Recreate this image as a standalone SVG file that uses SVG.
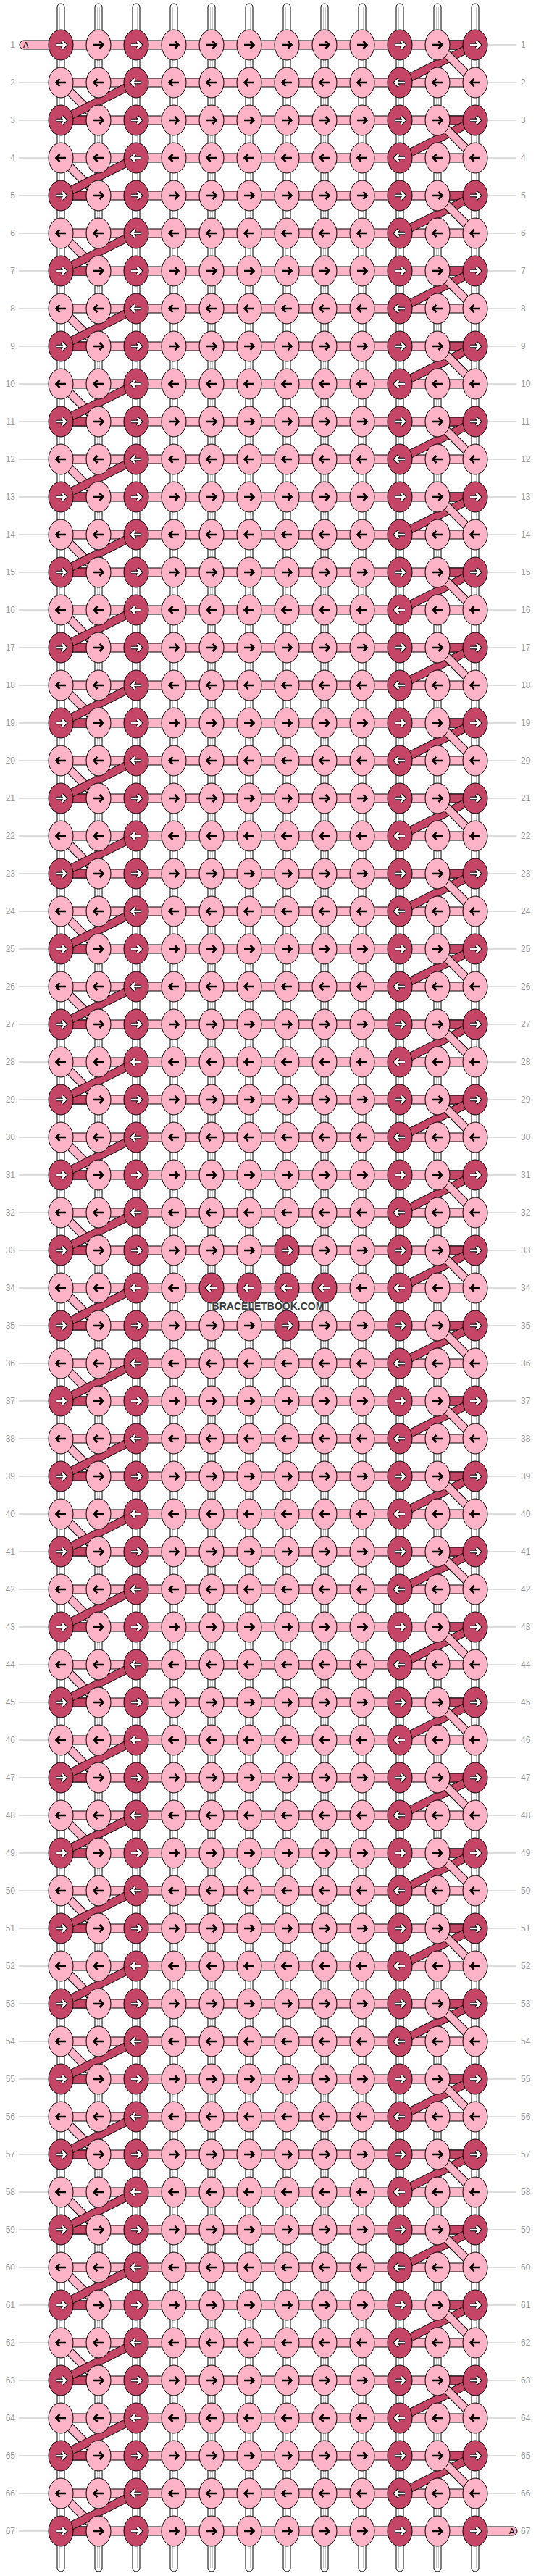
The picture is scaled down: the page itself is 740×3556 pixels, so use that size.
<svg xmlns="http://www.w3.org/2000/svg" xmlns:xlink="http://www.w3.org/1999/xlink" width="740" height="3556" viewBox="0 0 740 3556">
<style>
.lt{fill:#FFB3C6;stroke:#000;stroke-width:1}
.dk{fill:#C44566;stroke:#000;stroke-width:1}
.ob{fill:none;stroke:#000;stroke-width:12}
.lbd{fill:none;stroke:#FFB3C6;stroke-width:10}
.dbd{fill:none;stroke:#C44566;stroke-width:10}
.ab{fill:none;stroke:#000;stroke-width:2.6}
.ao{fill:none;stroke:#000;stroke-width:4.6}
.aw{fill:none;stroke:#fff;stroke-width:2.6}
.lb{font-family:"Liberation Sans",Arial,sans-serif;font-size:12px;fill:#999}
.ll{fill:none;stroke:#bbb;stroke-width:1}
.ta{font-family:"Liberation Sans",Arial,sans-serif;font-size:11px;fill:#000}
</style>
<defs>
<g id="LR"><ellipse rx="17" ry="21" class="lt"/><path d="M-7 0H6M1.5-5 6.5 0 1.5 5" class="ab"/></g>
<g id="LL"><ellipse rx="17" ry="21" class="lt"/><path d="M7 0H-6M-1.5-5-6.5 0-1.5 5" class="ab"/></g>
<g id="DR"><ellipse rx="17" ry="21" class="dk"/><path d="M-7 0H6M1.5-5 6.5 0 1.5 5" class="ao"/><path d="M-7 0H6M1.5-5 6.5 0 1.5 5" class="aw"/></g>
<g id="DL"><ellipse rx="17" ry="21" class="dk"/><path d="M7 0H-6M-1.5-5-6.5 0-1.5 5" class="ao"/><path d="M7 0H-6M-1.5-5-6.5 0-1.5 5" class="aw"/></g>
<g id="vt"><rect x="-5" y="5" width="10" height="3545" rx="5" fill="#fff" stroke="#000"/><path d="M-1.5 10V3545M1.5 10V3545" stroke="#c8c8c8" fill="none"/></g>
<rect id="hb" x="84" y="-6" width="572" height="12" class="lt"/>
<g id="evL"><rect x="84" y="46" width="52" height="12" class="dk"/><path d="M84 0 136 52" class="ob"/><path d="M84 0 136 52" class="lbd"/><path d="M188 0 84 52" class="ob"/><path d="M188 0 84 52" class="dbd"/></g>
<g id="odR"><rect x="604" y="-6" width="52" height="12" class="dk"/><path d="M656 0 552 52" class="ob"/><path d="M656 0 552 52" class="dbd"/><path d="M604 0 656 52" class="ob"/><path d="M604 0 656 52" class="lbd"/></g>
</defs>
<rect width="740" height="3556" fill="#fff"/>
<g id="labels">
<path class="ll" d="M26 114H67M26 166H67M26 218H67M26 270H67M26 322H67M26 374H67M26 426H67M26 478H67M26 530H67M26 582H67M26 634H67M26 686H67M26 738H67M26 790H67M26 842H67M26 894H67M26 946H67M26 998H67M26 1050H67M26 1102H67M26 1154H67M26 1206H67M26 1258H67M26 1310H67M26 1362H67M26 1414H67M26 1466H67M26 1518H67M26 1570H67M26 1622H67M26 1674H67M26 1726H67M26 1778H67M26 1830H67M26 1882H67M26 1934H67M26 1986H67M26 2038H67M26 2090H67M26 2142H67M26 2194H67M26 2246H67M26 2298H67M26 2350H67M26 2402H67M26 2454H67M26 2506H67M26 2558H67M26 2610H67M26 2662H67M26 2714H67M26 2766H67M26 2818H67M26 2870H67M26 2922H67M26 2974H67M26 3026H67M26 3078H67M26 3130H67M26 3182H67M26 3234H67M26 3286H67M26 3338H67M26 3390H67M26 3442H67M26 3494H67"/>
<path class="ll" d="M673 62H713M673 114H713M673 166H713M673 218H713M673 270H713M673 322H713M673 374H713M673 426H713M673 478H713M673 530H713M673 582H713M673 634H713M673 686H713M673 738H713M673 790H713M673 842H713M673 894H713M673 946H713M673 998H713M673 1050H713M673 1102H713M673 1154H713M673 1206H713M673 1258H713M673 1310H713M673 1362H713M673 1414H713M673 1466H713M673 1518H713M673 1570H713M673 1622H713M673 1674H713M673 1726H713M673 1778H713M673 1830H713M673 1882H713M673 1934H713M673 1986H713M673 2038H713M673 2090H713M673 2142H713M673 2194H713M673 2246H713M673 2298H713M673 2350H713M673 2402H713M673 2454H713M673 2506H713M673 2558H713M673 2610H713M673 2662H713M673 2714H713M673 2766H713M673 2818H713M673 2870H713M673 2922H713M673 2974H713M673 3026H713M673 3078H713M673 3130H713M673 3182H713M673 3234H713M673 3286H713M673 3338H713M673 3390H713M673 3442H713"/>
<g class="lb" text-anchor="end">
<text x="21" y="66">1</text><text x="21" y="118">2</text><text x="21" y="170">3</text><text x="21" y="222">4</text><text x="21" y="274">5</text><text x="21" y="326">6</text><text x="21" y="378">7</text><text x="21" y="430">8</text><text x="21" y="482">9</text><text x="21" y="534">10</text><text x="21" y="586">11</text><text x="21" y="638">12</text><text x="21" y="690">13</text><text x="21" y="742">14</text><text x="21" y="794">15</text><text x="21" y="846">16</text><text x="21" y="898">17</text><text x="21" y="950">18</text><text x="21" y="1002">19</text><text x="21" y="1054">20</text><text x="21" y="1106">21</text><text x="21" y="1158">22</text><text x="21" y="1210">23</text><text x="21" y="1262">24</text><text x="21" y="1314">25</text><text x="21" y="1366">26</text><text x="21" y="1418">27</text><text x="21" y="1470">28</text><text x="21" y="1522">29</text><text x="21" y="1574">30</text><text x="21" y="1626">31</text><text x="21" y="1678">32</text><text x="21" y="1730">33</text><text x="21" y="1782">34</text><text x="21" y="1834">35</text><text x="21" y="1886">36</text><text x="21" y="1938">37</text><text x="21" y="1990">38</text><text x="21" y="2042">39</text><text x="21" y="2094">40</text><text x="21" y="2146">41</text><text x="21" y="2198">42</text><text x="21" y="2250">43</text><text x="21" y="2302">44</text><text x="21" y="2354">45</text><text x="21" y="2406">46</text><text x="21" y="2458">47</text><text x="21" y="2510">48</text><text x="21" y="2562">49</text><text x="21" y="2614">50</text><text x="21" y="2666">51</text><text x="21" y="2718">52</text><text x="21" y="2770">53</text><text x="21" y="2822">54</text><text x="21" y="2874">55</text><text x="21" y="2926">56</text><text x="21" y="2978">57</text><text x="21" y="3030">58</text><text x="21" y="3082">59</text><text x="21" y="3134">60</text><text x="21" y="3186">61</text><text x="21" y="3238">62</text><text x="21" y="3290">63</text><text x="21" y="3342">64</text><text x="21" y="3394">65</text><text x="21" y="3446">66</text><text x="21" y="3498">67</text>
</g>
<g class="lb">
<text x="719" y="66">1</text><text x="719" y="118">2</text><text x="719" y="170">3</text><text x="719" y="222">4</text><text x="719" y="274">5</text><text x="719" y="326">6</text><text x="719" y="378">7</text><text x="719" y="430">8</text><text x="719" y="482">9</text><text x="719" y="534">10</text><text x="719" y="586">11</text><text x="719" y="638">12</text><text x="719" y="690">13</text><text x="719" y="742">14</text><text x="719" y="794">15</text><text x="719" y="846">16</text><text x="719" y="898">17</text><text x="719" y="950">18</text><text x="719" y="1002">19</text><text x="719" y="1054">20</text><text x="719" y="1106">21</text><text x="719" y="1158">22</text><text x="719" y="1210">23</text><text x="719" y="1262">24</text><text x="719" y="1314">25</text><text x="719" y="1366">26</text><text x="719" y="1418">27</text><text x="719" y="1470">28</text><text x="719" y="1522">29</text><text x="719" y="1574">30</text><text x="719" y="1626">31</text><text x="719" y="1678">32</text><text x="719" y="1730">33</text><text x="719" y="1782">34</text><text x="719" y="1834">35</text><text x="719" y="1886">36</text><text x="719" y="1938">37</text><text x="719" y="1990">38</text><text x="719" y="2042">39</text><text x="719" y="2094">40</text><text x="719" y="2146">41</text><text x="719" y="2198">42</text><text x="719" y="2250">43</text><text x="719" y="2302">44</text><text x="719" y="2354">45</text><text x="719" y="2406">46</text><text x="719" y="2458">47</text><text x="719" y="2510">48</text><text x="719" y="2562">49</text><text x="719" y="2614">50</text><text x="719" y="2666">51</text><text x="719" y="2718">52</text><text x="719" y="2770">53</text><text x="719" y="2822">54</text><text x="719" y="2874">55</text><text x="719" y="2926">56</text><text x="719" y="2978">57</text><text x="719" y="3030">58</text><text x="719" y="3082">59</text><text x="719" y="3134">60</text><text x="719" y="3186">61</text><text x="719" y="3238">62</text><text x="719" y="3290">63</text><text x="719" y="3342">64</text><text x="719" y="3394">65</text><text x="719" y="3446">66</text><text x="719" y="3498">67</text>
</g>
</g>
<g id="connectors">
<use href="#vt" x="84"/><use href="#vt" x="136"/><use href="#vt" x="188"/><use href="#vt" x="240"/><use href="#vt" x="292"/><use href="#vt" x="344"/><use href="#vt" x="396"/><use href="#vt" x="448"/><use href="#vt" x="500"/><use href="#vt" x="552"/><use href="#vt" x="604"/><use href="#vt" x="656"/>
<use href="#hb" y="62"/><use href="#hb" y="114"/><use href="#hb" y="166"/><use href="#hb" y="218"/><use href="#hb" y="270"/><use href="#hb" y="322"/><use href="#hb" y="374"/><use href="#hb" y="426"/><use href="#hb" y="478"/><use href="#hb" y="530"/><use href="#hb" y="582"/><use href="#hb" y="634"/><use href="#hb" y="686"/><use href="#hb" y="738"/><use href="#hb" y="790"/><use href="#hb" y="842"/><use href="#hb" y="894"/><use href="#hb" y="946"/><use href="#hb" y="998"/><use href="#hb" y="1050"/><use href="#hb" y="1102"/><use href="#hb" y="1154"/><use href="#hb" y="1206"/><use href="#hb" y="1258"/><use href="#hb" y="1310"/><use href="#hb" y="1362"/><use href="#hb" y="1414"/><use href="#hb" y="1466"/><use href="#hb" y="1518"/><use href="#hb" y="1570"/><use href="#hb" y="1622"/><use href="#hb" y="1674"/><use href="#hb" y="1726"/><use href="#hb" y="1778"/><use href="#hb" y="1830"/><use href="#hb" y="1882"/><use href="#hb" y="1934"/><use href="#hb" y="1986"/><use href="#hb" y="2038"/><use href="#hb" y="2090"/><use href="#hb" y="2142"/><use href="#hb" y="2194"/><use href="#hb" y="2246"/><use href="#hb" y="2298"/><use href="#hb" y="2350"/><use href="#hb" y="2402"/><use href="#hb" y="2454"/><use href="#hb" y="2506"/><use href="#hb" y="2558"/><use href="#hb" y="2610"/><use href="#hb" y="2662"/><use href="#hb" y="2714"/><use href="#hb" y="2766"/><use href="#hb" y="2818"/><use href="#hb" y="2870"/><use href="#hb" y="2922"/><use href="#hb" y="2974"/><use href="#hb" y="3026"/><use href="#hb" y="3078"/><use href="#hb" y="3130"/><use href="#hb" y="3182"/><use href="#hb" y="3234"/><use href="#hb" y="3286"/><use href="#hb" y="3338"/><use href="#hb" y="3390"/><use href="#hb" y="3442"/><use href="#hb" y="3494"/>
<rect x="27" y="56" width="70" height="12" rx="6" class="lt"/><text x="32" y="66" class="ta">A</text>
<rect x="643" y="3488" width="71" height="12" rx="6" class="lt"/><text x="703" y="3498" class="ta">A</text>
<use href="#evL" y="114"/><use href="#evL" y="218"/><use href="#evL" y="322"/><use href="#evL" y="426"/><use href="#evL" y="530"/><use href="#evL" y="634"/><use href="#evL" y="738"/><use href="#evL" y="842"/><use href="#evL" y="946"/><use href="#evL" y="1050"/><use href="#evL" y="1154"/><use href="#evL" y="1258"/><use href="#evL" y="1362"/><use href="#evL" y="1466"/><use href="#evL" y="1570"/><use href="#evL" y="1674"/><use href="#evL" y="1778"/><use href="#evL" y="1882"/><use href="#evL" y="1986"/><use href="#evL" y="2090"/><use href="#evL" y="2194"/><use href="#evL" y="2298"/><use href="#evL" y="2402"/><use href="#evL" y="2506"/><use href="#evL" y="2610"/><use href="#evL" y="2714"/><use href="#evL" y="2818"/><use href="#evL" y="2922"/><use href="#evL" y="3026"/><use href="#evL" y="3130"/><use href="#evL" y="3234"/><use href="#evL" y="3338"/><use href="#evL" y="3442"/>
<use href="#odR" y="62"/><use href="#odR" y="166"/><use href="#odR" y="270"/><use href="#odR" y="374"/><use href="#odR" y="478"/><use href="#odR" y="582"/><use href="#odR" y="686"/><use href="#odR" y="790"/><use href="#odR" y="894"/><use href="#odR" y="998"/><use href="#odR" y="1102"/><use href="#odR" y="1206"/><use href="#odR" y="1310"/><use href="#odR" y="1414"/><use href="#odR" y="1518"/><use href="#odR" y="1622"/><use href="#odR" y="1726"/><use href="#odR" y="1830"/><use href="#odR" y="1934"/><use href="#odR" y="2038"/><use href="#odR" y="2142"/><use href="#odR" y="2246"/><use href="#odR" y="2350"/><use href="#odR" y="2454"/><use href="#odR" y="2558"/><use href="#odR" y="2662"/><use href="#odR" y="2766"/><use href="#odR" y="2870"/><use href="#odR" y="2974"/><use href="#odR" y="3078"/><use href="#odR" y="3182"/><use href="#odR" y="3286"/><use href="#odR" y="3390"/>
</g>
<g id="knots">
<g transform="translate(0 62)"><g id="k1-1"><use href="#DR" x="84"/></g><g id="k1-2"><use href="#LR" x="136"/></g><g id="k1-3"><use href="#DR" x="188"/></g><g id="k1-4"><use href="#LR" x="240"/></g><g id="k1-5"><use href="#LR" x="292"/></g><g id="k1-6"><use href="#LR" x="344"/></g><g id="k1-7"><use href="#LR" x="396"/></g><g id="k1-8"><use href="#LR" x="448"/></g><g id="k1-9"><use href="#LR" x="500"/></g><g id="k1-10"><use href="#DR" x="552"/></g><g id="k1-11"><use href="#LR" x="604"/></g><g id="k1-12"><use href="#DR" x="656"/></g></g>
<g transform="translate(0 114)"><g id="k2-1"><use href="#LL" x="84"/></g><g id="k2-2"><use href="#LL" x="136"/></g><g id="k2-3"><use href="#DL" x="188"/></g><g id="k2-4"><use href="#LL" x="240"/></g><g id="k2-5"><use href="#LL" x="292"/></g><g id="k2-6"><use href="#LL" x="344"/></g><g id="k2-7"><use href="#LL" x="396"/></g><g id="k2-8"><use href="#LL" x="448"/></g><g id="k2-9"><use href="#LL" x="500"/></g><g id="k2-10"><use href="#DL" x="552"/></g><g id="k2-11"><use href="#LL" x="604"/></g><g id="k2-12"><use href="#LL" x="656"/></g></g>
<g transform="translate(0 166)"><g id="k3-1"><use href="#DR" x="84"/></g><g id="k3-2"><use href="#LR" x="136"/></g><g id="k3-3"><use href="#DR" x="188"/></g><g id="k3-4"><use href="#LR" x="240"/></g><g id="k3-5"><use href="#LR" x="292"/></g><g id="k3-6"><use href="#LR" x="344"/></g><g id="k3-7"><use href="#LR" x="396"/></g><g id="k3-8"><use href="#LR" x="448"/></g><g id="k3-9"><use href="#LR" x="500"/></g><g id="k3-10"><use href="#DR" x="552"/></g><g id="k3-11"><use href="#LR" x="604"/></g><g id="k3-12"><use href="#DR" x="656"/></g></g>
<g transform="translate(0 218)"><g id="k4-1"><use href="#LL" x="84"/></g><g id="k4-2"><use href="#LL" x="136"/></g><g id="k4-3"><use href="#DL" x="188"/></g><g id="k4-4"><use href="#LL" x="240"/></g><g id="k4-5"><use href="#LL" x="292"/></g><g id="k4-6"><use href="#LL" x="344"/></g><g id="k4-7"><use href="#LL" x="396"/></g><g id="k4-8"><use href="#LL" x="448"/></g><g id="k4-9"><use href="#LL" x="500"/></g><g id="k4-10"><use href="#DL" x="552"/></g><g id="k4-11"><use href="#LL" x="604"/></g><g id="k4-12"><use href="#LL" x="656"/></g></g>
<g transform="translate(0 270)"><g id="k5-1"><use href="#DR" x="84"/></g><g id="k5-2"><use href="#LR" x="136"/></g><g id="k5-3"><use href="#DR" x="188"/></g><g id="k5-4"><use href="#LR" x="240"/></g><g id="k5-5"><use href="#LR" x="292"/></g><g id="k5-6"><use href="#LR" x="344"/></g><g id="k5-7"><use href="#LR" x="396"/></g><g id="k5-8"><use href="#LR" x="448"/></g><g id="k5-9"><use href="#LR" x="500"/></g><g id="k5-10"><use href="#DR" x="552"/></g><g id="k5-11"><use href="#LR" x="604"/></g><g id="k5-12"><use href="#DR" x="656"/></g></g>
<g transform="translate(0 322)"><g id="k6-1"><use href="#LL" x="84"/></g><g id="k6-2"><use href="#LL" x="136"/></g><g id="k6-3"><use href="#DL" x="188"/></g><g id="k6-4"><use href="#LL" x="240"/></g><g id="k6-5"><use href="#LL" x="292"/></g><g id="k6-6"><use href="#LL" x="344"/></g><g id="k6-7"><use href="#LL" x="396"/></g><g id="k6-8"><use href="#LL" x="448"/></g><g id="k6-9"><use href="#LL" x="500"/></g><g id="k6-10"><use href="#DL" x="552"/></g><g id="k6-11"><use href="#LL" x="604"/></g><g id="k6-12"><use href="#LL" x="656"/></g></g>
<g transform="translate(0 374)"><g id="k7-1"><use href="#DR" x="84"/></g><g id="k7-2"><use href="#LR" x="136"/></g><g id="k7-3"><use href="#DR" x="188"/></g><g id="k7-4"><use href="#LR" x="240"/></g><g id="k7-5"><use href="#LR" x="292"/></g><g id="k7-6"><use href="#LR" x="344"/></g><g id="k7-7"><use href="#LR" x="396"/></g><g id="k7-8"><use href="#LR" x="448"/></g><g id="k7-9"><use href="#LR" x="500"/></g><g id="k7-10"><use href="#DR" x="552"/></g><g id="k7-11"><use href="#LR" x="604"/></g><g id="k7-12"><use href="#DR" x="656"/></g></g>
<g transform="translate(0 426)"><g id="k8-1"><use href="#LL" x="84"/></g><g id="k8-2"><use href="#LL" x="136"/></g><g id="k8-3"><use href="#DL" x="188"/></g><g id="k8-4"><use href="#LL" x="240"/></g><g id="k8-5"><use href="#LL" x="292"/></g><g id="k8-6"><use href="#LL" x="344"/></g><g id="k8-7"><use href="#LL" x="396"/></g><g id="k8-8"><use href="#LL" x="448"/></g><g id="k8-9"><use href="#LL" x="500"/></g><g id="k8-10"><use href="#DL" x="552"/></g><g id="k8-11"><use href="#LL" x="604"/></g><g id="k8-12"><use href="#LL" x="656"/></g></g>
<g transform="translate(0 478)"><g id="k9-1"><use href="#DR" x="84"/></g><g id="k9-2"><use href="#LR" x="136"/></g><g id="k9-3"><use href="#DR" x="188"/></g><g id="k9-4"><use href="#LR" x="240"/></g><g id="k9-5"><use href="#LR" x="292"/></g><g id="k9-6"><use href="#LR" x="344"/></g><g id="k9-7"><use href="#LR" x="396"/></g><g id="k9-8"><use href="#LR" x="448"/></g><g id="k9-9"><use href="#LR" x="500"/></g><g id="k9-10"><use href="#DR" x="552"/></g><g id="k9-11"><use href="#LR" x="604"/></g><g id="k9-12"><use href="#DR" x="656"/></g></g>
<g transform="translate(0 530)"><g id="k10-1"><use href="#LL" x="84"/></g><g id="k10-2"><use href="#LL" x="136"/></g><g id="k10-3"><use href="#DL" x="188"/></g><g id="k10-4"><use href="#LL" x="240"/></g><g id="k10-5"><use href="#LL" x="292"/></g><g id="k10-6"><use href="#LL" x="344"/></g><g id="k10-7"><use href="#LL" x="396"/></g><g id="k10-8"><use href="#LL" x="448"/></g><g id="k10-9"><use href="#LL" x="500"/></g><g id="k10-10"><use href="#DL" x="552"/></g><g id="k10-11"><use href="#LL" x="604"/></g><g id="k10-12"><use href="#LL" x="656"/></g></g>
<g transform="translate(0 582)"><g id="k11-1"><use href="#DR" x="84"/></g><g id="k11-2"><use href="#LR" x="136"/></g><g id="k11-3"><use href="#DR" x="188"/></g><g id="k11-4"><use href="#LR" x="240"/></g><g id="k11-5"><use href="#LR" x="292"/></g><g id="k11-6"><use href="#LR" x="344"/></g><g id="k11-7"><use href="#LR" x="396"/></g><g id="k11-8"><use href="#LR" x="448"/></g><g id="k11-9"><use href="#LR" x="500"/></g><g id="k11-10"><use href="#DR" x="552"/></g><g id="k11-11"><use href="#LR" x="604"/></g><g id="k11-12"><use href="#DR" x="656"/></g></g>
<g transform="translate(0 634)"><g id="k12-1"><use href="#LL" x="84"/></g><g id="k12-2"><use href="#LL" x="136"/></g><g id="k12-3"><use href="#DL" x="188"/></g><g id="k12-4"><use href="#LL" x="240"/></g><g id="k12-5"><use href="#LL" x="292"/></g><g id="k12-6"><use href="#LL" x="344"/></g><g id="k12-7"><use href="#LL" x="396"/></g><g id="k12-8"><use href="#LL" x="448"/></g><g id="k12-9"><use href="#LL" x="500"/></g><g id="k12-10"><use href="#DL" x="552"/></g><g id="k12-11"><use href="#LL" x="604"/></g><g id="k12-12"><use href="#LL" x="656"/></g></g>
<g transform="translate(0 686)"><g id="k13-1"><use href="#DR" x="84"/></g><g id="k13-2"><use href="#LR" x="136"/></g><g id="k13-3"><use href="#DR" x="188"/></g><g id="k13-4"><use href="#LR" x="240"/></g><g id="k13-5"><use href="#LR" x="292"/></g><g id="k13-6"><use href="#LR" x="344"/></g><g id="k13-7"><use href="#LR" x="396"/></g><g id="k13-8"><use href="#LR" x="448"/></g><g id="k13-9"><use href="#LR" x="500"/></g><g id="k13-10"><use href="#DR" x="552"/></g><g id="k13-11"><use href="#LR" x="604"/></g><g id="k13-12"><use href="#DR" x="656"/></g></g>
<g transform="translate(0 738)"><g id="k14-1"><use href="#LL" x="84"/></g><g id="k14-2"><use href="#LL" x="136"/></g><g id="k14-3"><use href="#DL" x="188"/></g><g id="k14-4"><use href="#LL" x="240"/></g><g id="k14-5"><use href="#LL" x="292"/></g><g id="k14-6"><use href="#LL" x="344"/></g><g id="k14-7"><use href="#LL" x="396"/></g><g id="k14-8"><use href="#LL" x="448"/></g><g id="k14-9"><use href="#LL" x="500"/></g><g id="k14-10"><use href="#DL" x="552"/></g><g id="k14-11"><use href="#LL" x="604"/></g><g id="k14-12"><use href="#LL" x="656"/></g></g>
<g transform="translate(0 790)"><g id="k15-1"><use href="#DR" x="84"/></g><g id="k15-2"><use href="#LR" x="136"/></g><g id="k15-3"><use href="#DR" x="188"/></g><g id="k15-4"><use href="#LR" x="240"/></g><g id="k15-5"><use href="#LR" x="292"/></g><g id="k15-6"><use href="#LR" x="344"/></g><g id="k15-7"><use href="#LR" x="396"/></g><g id="k15-8"><use href="#LR" x="448"/></g><g id="k15-9"><use href="#LR" x="500"/></g><g id="k15-10"><use href="#DR" x="552"/></g><g id="k15-11"><use href="#LR" x="604"/></g><g id="k15-12"><use href="#DR" x="656"/></g></g>
<g transform="translate(0 842)"><g id="k16-1"><use href="#LL" x="84"/></g><g id="k16-2"><use href="#LL" x="136"/></g><g id="k16-3"><use href="#DL" x="188"/></g><g id="k16-4"><use href="#LL" x="240"/></g><g id="k16-5"><use href="#LL" x="292"/></g><g id="k16-6"><use href="#LL" x="344"/></g><g id="k16-7"><use href="#LL" x="396"/></g><g id="k16-8"><use href="#LL" x="448"/></g><g id="k16-9"><use href="#LL" x="500"/></g><g id="k16-10"><use href="#DL" x="552"/></g><g id="k16-11"><use href="#LL" x="604"/></g><g id="k16-12"><use href="#LL" x="656"/></g></g>
<g transform="translate(0 894)"><g id="k17-1"><use href="#DR" x="84"/></g><g id="k17-2"><use href="#LR" x="136"/></g><g id="k17-3"><use href="#DR" x="188"/></g><g id="k17-4"><use href="#LR" x="240"/></g><g id="k17-5"><use href="#LR" x="292"/></g><g id="k17-6"><use href="#LR" x="344"/></g><g id="k17-7"><use href="#LR" x="396"/></g><g id="k17-8"><use href="#LR" x="448"/></g><g id="k17-9"><use href="#LR" x="500"/></g><g id="k17-10"><use href="#DR" x="552"/></g><g id="k17-11"><use href="#LR" x="604"/></g><g id="k17-12"><use href="#DR" x="656"/></g></g>
<g transform="translate(0 946)"><g id="k18-1"><use href="#LL" x="84"/></g><g id="k18-2"><use href="#LL" x="136"/></g><g id="k18-3"><use href="#DL" x="188"/></g><g id="k18-4"><use href="#LL" x="240"/></g><g id="k18-5"><use href="#LL" x="292"/></g><g id="k18-6"><use href="#LL" x="344"/></g><g id="k18-7"><use href="#LL" x="396"/></g><g id="k18-8"><use href="#LL" x="448"/></g><g id="k18-9"><use href="#LL" x="500"/></g><g id="k18-10"><use href="#DL" x="552"/></g><g id="k18-11"><use href="#LL" x="604"/></g><g id="k18-12"><use href="#LL" x="656"/></g></g>
<g transform="translate(0 998)"><g id="k19-1"><use href="#DR" x="84"/></g><g id="k19-2"><use href="#LR" x="136"/></g><g id="k19-3"><use href="#DR" x="188"/></g><g id="k19-4"><use href="#LR" x="240"/></g><g id="k19-5"><use href="#LR" x="292"/></g><g id="k19-6"><use href="#LR" x="344"/></g><g id="k19-7"><use href="#LR" x="396"/></g><g id="k19-8"><use href="#LR" x="448"/></g><g id="k19-9"><use href="#LR" x="500"/></g><g id="k19-10"><use href="#DR" x="552"/></g><g id="k19-11"><use href="#LR" x="604"/></g><g id="k19-12"><use href="#DR" x="656"/></g></g>
<g transform="translate(0 1050)"><g id="k20-1"><use href="#LL" x="84"/></g><g id="k20-2"><use href="#LL" x="136"/></g><g id="k20-3"><use href="#DL" x="188"/></g><g id="k20-4"><use href="#LL" x="240"/></g><g id="k20-5"><use href="#LL" x="292"/></g><g id="k20-6"><use href="#LL" x="344"/></g><g id="k20-7"><use href="#LL" x="396"/></g><g id="k20-8"><use href="#LL" x="448"/></g><g id="k20-9"><use href="#LL" x="500"/></g><g id="k20-10"><use href="#DL" x="552"/></g><g id="k20-11"><use href="#LL" x="604"/></g><g id="k20-12"><use href="#LL" x="656"/></g></g>
<g transform="translate(0 1102)"><g id="k21-1"><use href="#DR" x="84"/></g><g id="k21-2"><use href="#LR" x="136"/></g><g id="k21-3"><use href="#DR" x="188"/></g><g id="k21-4"><use href="#LR" x="240"/></g><g id="k21-5"><use href="#LR" x="292"/></g><g id="k21-6"><use href="#LR" x="344"/></g><g id="k21-7"><use href="#LR" x="396"/></g><g id="k21-8"><use href="#LR" x="448"/></g><g id="k21-9"><use href="#LR" x="500"/></g><g id="k21-10"><use href="#DR" x="552"/></g><g id="k21-11"><use href="#LR" x="604"/></g><g id="k21-12"><use href="#DR" x="656"/></g></g>
<g transform="translate(0 1154)"><g id="k22-1"><use href="#LL" x="84"/></g><g id="k22-2"><use href="#LL" x="136"/></g><g id="k22-3"><use href="#DL" x="188"/></g><g id="k22-4"><use href="#LL" x="240"/></g><g id="k22-5"><use href="#LL" x="292"/></g><g id="k22-6"><use href="#LL" x="344"/></g><g id="k22-7"><use href="#LL" x="396"/></g><g id="k22-8"><use href="#LL" x="448"/></g><g id="k22-9"><use href="#LL" x="500"/></g><g id="k22-10"><use href="#DL" x="552"/></g><g id="k22-11"><use href="#LL" x="604"/></g><g id="k22-12"><use href="#LL" x="656"/></g></g>
<g transform="translate(0 1206)"><g id="k23-1"><use href="#DR" x="84"/></g><g id="k23-2"><use href="#LR" x="136"/></g><g id="k23-3"><use href="#DR" x="188"/></g><g id="k23-4"><use href="#LR" x="240"/></g><g id="k23-5"><use href="#LR" x="292"/></g><g id="k23-6"><use href="#LR" x="344"/></g><g id="k23-7"><use href="#LR" x="396"/></g><g id="k23-8"><use href="#LR" x="448"/></g><g id="k23-9"><use href="#LR" x="500"/></g><g id="k23-10"><use href="#DR" x="552"/></g><g id="k23-11"><use href="#LR" x="604"/></g><g id="k23-12"><use href="#DR" x="656"/></g></g>
<g transform="translate(0 1258)"><g id="k24-1"><use href="#LL" x="84"/></g><g id="k24-2"><use href="#LL" x="136"/></g><g id="k24-3"><use href="#DL" x="188"/></g><g id="k24-4"><use href="#LL" x="240"/></g><g id="k24-5"><use href="#LL" x="292"/></g><g id="k24-6"><use href="#LL" x="344"/></g><g id="k24-7"><use href="#LL" x="396"/></g><g id="k24-8"><use href="#LL" x="448"/></g><g id="k24-9"><use href="#LL" x="500"/></g><g id="k24-10"><use href="#DL" x="552"/></g><g id="k24-11"><use href="#LL" x="604"/></g><g id="k24-12"><use href="#LL" x="656"/></g></g>
<g transform="translate(0 1310)"><g id="k25-1"><use href="#DR" x="84"/></g><g id="k25-2"><use href="#LR" x="136"/></g><g id="k25-3"><use href="#DR" x="188"/></g><g id="k25-4"><use href="#LR" x="240"/></g><g id="k25-5"><use href="#LR" x="292"/></g><g id="k25-6"><use href="#LR" x="344"/></g><g id="k25-7"><use href="#LR" x="396"/></g><g id="k25-8"><use href="#LR" x="448"/></g><g id="k25-9"><use href="#LR" x="500"/></g><g id="k25-10"><use href="#DR" x="552"/></g><g id="k25-11"><use href="#LR" x="604"/></g><g id="k25-12"><use href="#DR" x="656"/></g></g>
<g transform="translate(0 1362)"><g id="k26-1"><use href="#LL" x="84"/></g><g id="k26-2"><use href="#LL" x="136"/></g><g id="k26-3"><use href="#DL" x="188"/></g><g id="k26-4"><use href="#LL" x="240"/></g><g id="k26-5"><use href="#LL" x="292"/></g><g id="k26-6"><use href="#LL" x="344"/></g><g id="k26-7"><use href="#LL" x="396"/></g><g id="k26-8"><use href="#LL" x="448"/></g><g id="k26-9"><use href="#LL" x="500"/></g><g id="k26-10"><use href="#DL" x="552"/></g><g id="k26-11"><use href="#LL" x="604"/></g><g id="k26-12"><use href="#LL" x="656"/></g></g>
<g transform="translate(0 1414)"><g id="k27-1"><use href="#DR" x="84"/></g><g id="k27-2"><use href="#LR" x="136"/></g><g id="k27-3"><use href="#DR" x="188"/></g><g id="k27-4"><use href="#LR" x="240"/></g><g id="k27-5"><use href="#LR" x="292"/></g><g id="k27-6"><use href="#LR" x="344"/></g><g id="k27-7"><use href="#LR" x="396"/></g><g id="k27-8"><use href="#LR" x="448"/></g><g id="k27-9"><use href="#LR" x="500"/></g><g id="k27-10"><use href="#DR" x="552"/></g><g id="k27-11"><use href="#LR" x="604"/></g><g id="k27-12"><use href="#DR" x="656"/></g></g>
<g transform="translate(0 1466)"><g id="k28-1"><use href="#LL" x="84"/></g><g id="k28-2"><use href="#LL" x="136"/></g><g id="k28-3"><use href="#DL" x="188"/></g><g id="k28-4"><use href="#LL" x="240"/></g><g id="k28-5"><use href="#LL" x="292"/></g><g id="k28-6"><use href="#LL" x="344"/></g><g id="k28-7"><use href="#LL" x="396"/></g><g id="k28-8"><use href="#LL" x="448"/></g><g id="k28-9"><use href="#LL" x="500"/></g><g id="k28-10"><use href="#DL" x="552"/></g><g id="k28-11"><use href="#LL" x="604"/></g><g id="k28-12"><use href="#LL" x="656"/></g></g>
<g transform="translate(0 1518)"><g id="k29-1"><use href="#DR" x="84"/></g><g id="k29-2"><use href="#LR" x="136"/></g><g id="k29-3"><use href="#DR" x="188"/></g><g id="k29-4"><use href="#LR" x="240"/></g><g id="k29-5"><use href="#LR" x="292"/></g><g id="k29-6"><use href="#LR" x="344"/></g><g id="k29-7"><use href="#LR" x="396"/></g><g id="k29-8"><use href="#LR" x="448"/></g><g id="k29-9"><use href="#LR" x="500"/></g><g id="k29-10"><use href="#DR" x="552"/></g><g id="k29-11"><use href="#LR" x="604"/></g><g id="k29-12"><use href="#DR" x="656"/></g></g>
<g transform="translate(0 1570)"><g id="k30-1"><use href="#LL" x="84"/></g><g id="k30-2"><use href="#LL" x="136"/></g><g id="k30-3"><use href="#DL" x="188"/></g><g id="k30-4"><use href="#LL" x="240"/></g><g id="k30-5"><use href="#LL" x="292"/></g><g id="k30-6"><use href="#LL" x="344"/></g><g id="k30-7"><use href="#LL" x="396"/></g><g id="k30-8"><use href="#LL" x="448"/></g><g id="k30-9"><use href="#LL" x="500"/></g><g id="k30-10"><use href="#DL" x="552"/></g><g id="k30-11"><use href="#LL" x="604"/></g><g id="k30-12"><use href="#LL" x="656"/></g></g>
<g transform="translate(0 1622)"><g id="k31-1"><use href="#DR" x="84"/></g><g id="k31-2"><use href="#LR" x="136"/></g><g id="k31-3"><use href="#DR" x="188"/></g><g id="k31-4"><use href="#LR" x="240"/></g><g id="k31-5"><use href="#LR" x="292"/></g><g id="k31-6"><use href="#LR" x="344"/></g><g id="k31-7"><use href="#LR" x="396"/></g><g id="k31-8"><use href="#LR" x="448"/></g><g id="k31-9"><use href="#LR" x="500"/></g><g id="k31-10"><use href="#DR" x="552"/></g><g id="k31-11"><use href="#LR" x="604"/></g><g id="k31-12"><use href="#DR" x="656"/></g></g>
<g transform="translate(0 1674)"><g id="k32-1"><use href="#LL" x="84"/></g><g id="k32-2"><use href="#LL" x="136"/></g><g id="k32-3"><use href="#DL" x="188"/></g><g id="k32-4"><use href="#LL" x="240"/></g><g id="k32-5"><use href="#LL" x="292"/></g><g id="k32-6"><use href="#LL" x="344"/></g><g id="k32-7"><use href="#LL" x="396"/></g><g id="k32-8"><use href="#LL" x="448"/></g><g id="k32-9"><use href="#LL" x="500"/></g><g id="k32-10"><use href="#DL" x="552"/></g><g id="k32-11"><use href="#LL" x="604"/></g><g id="k32-12"><use href="#LL" x="656"/></g></g>
<g transform="translate(0 1726)"><g id="k33-1"><use href="#DR" x="84"/></g><g id="k33-2"><use href="#LR" x="136"/></g><g id="k33-3"><use href="#DR" x="188"/></g><g id="k33-4"><use href="#LR" x="240"/></g><g id="k33-5"><use href="#LR" x="292"/></g><g id="k33-6"><use href="#LR" x="344"/></g><g id="k33-7"><use href="#DR" x="396"/></g><g id="k33-8"><use href="#LR" x="448"/></g><g id="k33-9"><use href="#LR" x="500"/></g><g id="k33-10"><use href="#DR" x="552"/></g><g id="k33-11"><use href="#LR" x="604"/></g><g id="k33-12"><use href="#DR" x="656"/></g></g>
<g transform="translate(0 1778)"><g id="k34-1"><use href="#LL" x="84"/></g><g id="k34-2"><use href="#LL" x="136"/></g><g id="k34-3"><use href="#DL" x="188"/></g><g id="k34-4"><use href="#LL" x="240"/></g><g id="k34-5"><use href="#DL" x="292"/></g><g id="k34-6"><use href="#DL" x="344"/></g><g id="k34-7"><use href="#DL" x="396"/></g><g id="k34-8"><use href="#DL" x="448"/></g><g id="k34-9"><use href="#LL" x="500"/></g><g id="k34-10"><use href="#DL" x="552"/></g><g id="k34-11"><use href="#LL" x="604"/></g><g id="k34-12"><use href="#LL" x="656"/></g></g>
<g transform="translate(0 1830)"><g id="k35-1"><use href="#DR" x="84"/></g><g id="k35-2"><use href="#LR" x="136"/></g><g id="k35-3"><use href="#DR" x="188"/></g><g id="k35-4"><use href="#LR" x="240"/></g><g id="k35-5"><use href="#LR" x="292"/></g><g id="k35-6"><use href="#LR" x="344"/></g><g id="k35-7"><use href="#DR" x="396"/></g><g id="k35-8"><use href="#LR" x="448"/></g><g id="k35-9"><use href="#LR" x="500"/></g><g id="k35-10"><use href="#DR" x="552"/></g><g id="k35-11"><use href="#LR" x="604"/></g><g id="k35-12"><use href="#DR" x="656"/></g></g>
<g transform="translate(0 1882)"><g id="k36-1"><use href="#LL" x="84"/></g><g id="k36-2"><use href="#LL" x="136"/></g><g id="k36-3"><use href="#DL" x="188"/></g><g id="k36-4"><use href="#LL" x="240"/></g><g id="k36-5"><use href="#LL" x="292"/></g><g id="k36-6"><use href="#LL" x="344"/></g><g id="k36-7"><use href="#LL" x="396"/></g><g id="k36-8"><use href="#LL" x="448"/></g><g id="k36-9"><use href="#LL" x="500"/></g><g id="k36-10"><use href="#DL" x="552"/></g><g id="k36-11"><use href="#LL" x="604"/></g><g id="k36-12"><use href="#LL" x="656"/></g></g>
<g transform="translate(0 1934)"><g id="k37-1"><use href="#DR" x="84"/></g><g id="k37-2"><use href="#LR" x="136"/></g><g id="k37-3"><use href="#DR" x="188"/></g><g id="k37-4"><use href="#LR" x="240"/></g><g id="k37-5"><use href="#LR" x="292"/></g><g id="k37-6"><use href="#LR" x="344"/></g><g id="k37-7"><use href="#LR" x="396"/></g><g id="k37-8"><use href="#LR" x="448"/></g><g id="k37-9"><use href="#LR" x="500"/></g><g id="k37-10"><use href="#DR" x="552"/></g><g id="k37-11"><use href="#LR" x="604"/></g><g id="k37-12"><use href="#DR" x="656"/></g></g>
<g transform="translate(0 1986)"><g id="k38-1"><use href="#LL" x="84"/></g><g id="k38-2"><use href="#LL" x="136"/></g><g id="k38-3"><use href="#DL" x="188"/></g><g id="k38-4"><use href="#LL" x="240"/></g><g id="k38-5"><use href="#LL" x="292"/></g><g id="k38-6"><use href="#LL" x="344"/></g><g id="k38-7"><use href="#LL" x="396"/></g><g id="k38-8"><use href="#LL" x="448"/></g><g id="k38-9"><use href="#LL" x="500"/></g><g id="k38-10"><use href="#DL" x="552"/></g><g id="k38-11"><use href="#LL" x="604"/></g><g id="k38-12"><use href="#LL" x="656"/></g></g>
<g transform="translate(0 2038)"><g id="k39-1"><use href="#DR" x="84"/></g><g id="k39-2"><use href="#LR" x="136"/></g><g id="k39-3"><use href="#DR" x="188"/></g><g id="k39-4"><use href="#LR" x="240"/></g><g id="k39-5"><use href="#LR" x="292"/></g><g id="k39-6"><use href="#LR" x="344"/></g><g id="k39-7"><use href="#LR" x="396"/></g><g id="k39-8"><use href="#LR" x="448"/></g><g id="k39-9"><use href="#LR" x="500"/></g><g id="k39-10"><use href="#DR" x="552"/></g><g id="k39-11"><use href="#LR" x="604"/></g><g id="k39-12"><use href="#DR" x="656"/></g></g>
<g transform="translate(0 2090)"><g id="k40-1"><use href="#LL" x="84"/></g><g id="k40-2"><use href="#LL" x="136"/></g><g id="k40-3"><use href="#DL" x="188"/></g><g id="k40-4"><use href="#LL" x="240"/></g><g id="k40-5"><use href="#LL" x="292"/></g><g id="k40-6"><use href="#LL" x="344"/></g><g id="k40-7"><use href="#LL" x="396"/></g><g id="k40-8"><use href="#LL" x="448"/></g><g id="k40-9"><use href="#LL" x="500"/></g><g id="k40-10"><use href="#DL" x="552"/></g><g id="k40-11"><use href="#LL" x="604"/></g><g id="k40-12"><use href="#LL" x="656"/></g></g>
<g transform="translate(0 2142)"><g id="k41-1"><use href="#DR" x="84"/></g><g id="k41-2"><use href="#LR" x="136"/></g><g id="k41-3"><use href="#DR" x="188"/></g><g id="k41-4"><use href="#LR" x="240"/></g><g id="k41-5"><use href="#LR" x="292"/></g><g id="k41-6"><use href="#LR" x="344"/></g><g id="k41-7"><use href="#LR" x="396"/></g><g id="k41-8"><use href="#LR" x="448"/></g><g id="k41-9"><use href="#LR" x="500"/></g><g id="k41-10"><use href="#DR" x="552"/></g><g id="k41-11"><use href="#LR" x="604"/></g><g id="k41-12"><use href="#DR" x="656"/></g></g>
<g transform="translate(0 2194)"><g id="k42-1"><use href="#LL" x="84"/></g><g id="k42-2"><use href="#LL" x="136"/></g><g id="k42-3"><use href="#DL" x="188"/></g><g id="k42-4"><use href="#LL" x="240"/></g><g id="k42-5"><use href="#LL" x="292"/></g><g id="k42-6"><use href="#LL" x="344"/></g><g id="k42-7"><use href="#LL" x="396"/></g><g id="k42-8"><use href="#LL" x="448"/></g><g id="k42-9"><use href="#LL" x="500"/></g><g id="k42-10"><use href="#DL" x="552"/></g><g id="k42-11"><use href="#LL" x="604"/></g><g id="k42-12"><use href="#LL" x="656"/></g></g>
<g transform="translate(0 2246)"><g id="k43-1"><use href="#DR" x="84"/></g><g id="k43-2"><use href="#LR" x="136"/></g><g id="k43-3"><use href="#DR" x="188"/></g><g id="k43-4"><use href="#LR" x="240"/></g><g id="k43-5"><use href="#LR" x="292"/></g><g id="k43-6"><use href="#LR" x="344"/></g><g id="k43-7"><use href="#LR" x="396"/></g><g id="k43-8"><use href="#LR" x="448"/></g><g id="k43-9"><use href="#LR" x="500"/></g><g id="k43-10"><use href="#DR" x="552"/></g><g id="k43-11"><use href="#LR" x="604"/></g><g id="k43-12"><use href="#DR" x="656"/></g></g>
<g transform="translate(0 2298)"><g id="k44-1"><use href="#LL" x="84"/></g><g id="k44-2"><use href="#LL" x="136"/></g><g id="k44-3"><use href="#DL" x="188"/></g><g id="k44-4"><use href="#LL" x="240"/></g><g id="k44-5"><use href="#LL" x="292"/></g><g id="k44-6"><use href="#LL" x="344"/></g><g id="k44-7"><use href="#LL" x="396"/></g><g id="k44-8"><use href="#LL" x="448"/></g><g id="k44-9"><use href="#LL" x="500"/></g><g id="k44-10"><use href="#DL" x="552"/></g><g id="k44-11"><use href="#LL" x="604"/></g><g id="k44-12"><use href="#LL" x="656"/></g></g>
<g transform="translate(0 2350)"><g id="k45-1"><use href="#DR" x="84"/></g><g id="k45-2"><use href="#LR" x="136"/></g><g id="k45-3"><use href="#DR" x="188"/></g><g id="k45-4"><use href="#LR" x="240"/></g><g id="k45-5"><use href="#LR" x="292"/></g><g id="k45-6"><use href="#LR" x="344"/></g><g id="k45-7"><use href="#LR" x="396"/></g><g id="k45-8"><use href="#LR" x="448"/></g><g id="k45-9"><use href="#LR" x="500"/></g><g id="k45-10"><use href="#DR" x="552"/></g><g id="k45-11"><use href="#LR" x="604"/></g><g id="k45-12"><use href="#DR" x="656"/></g></g>
<g transform="translate(0 2402)"><g id="k46-1"><use href="#LL" x="84"/></g><g id="k46-2"><use href="#LL" x="136"/></g><g id="k46-3"><use href="#DL" x="188"/></g><g id="k46-4"><use href="#LL" x="240"/></g><g id="k46-5"><use href="#LL" x="292"/></g><g id="k46-6"><use href="#LL" x="344"/></g><g id="k46-7"><use href="#LL" x="396"/></g><g id="k46-8"><use href="#LL" x="448"/></g><g id="k46-9"><use href="#LL" x="500"/></g><g id="k46-10"><use href="#DL" x="552"/></g><g id="k46-11"><use href="#LL" x="604"/></g><g id="k46-12"><use href="#LL" x="656"/></g></g>
<g transform="translate(0 2454)"><g id="k47-1"><use href="#DR" x="84"/></g><g id="k47-2"><use href="#LR" x="136"/></g><g id="k47-3"><use href="#DR" x="188"/></g><g id="k47-4"><use href="#LR" x="240"/></g><g id="k47-5"><use href="#LR" x="292"/></g><g id="k47-6"><use href="#LR" x="344"/></g><g id="k47-7"><use href="#LR" x="396"/></g><g id="k47-8"><use href="#LR" x="448"/></g><g id="k47-9"><use href="#LR" x="500"/></g><g id="k47-10"><use href="#DR" x="552"/></g><g id="k47-11"><use href="#LR" x="604"/></g><g id="k47-12"><use href="#DR" x="656"/></g></g>
<g transform="translate(0 2506)"><g id="k48-1"><use href="#LL" x="84"/></g><g id="k48-2"><use href="#LL" x="136"/></g><g id="k48-3"><use href="#DL" x="188"/></g><g id="k48-4"><use href="#LL" x="240"/></g><g id="k48-5"><use href="#LL" x="292"/></g><g id="k48-6"><use href="#LL" x="344"/></g><g id="k48-7"><use href="#LL" x="396"/></g><g id="k48-8"><use href="#LL" x="448"/></g><g id="k48-9"><use href="#LL" x="500"/></g><g id="k48-10"><use href="#DL" x="552"/></g><g id="k48-11"><use href="#LL" x="604"/></g><g id="k48-12"><use href="#LL" x="656"/></g></g>
<g transform="translate(0 2558)"><g id="k49-1"><use href="#DR" x="84"/></g><g id="k49-2"><use href="#LR" x="136"/></g><g id="k49-3"><use href="#DR" x="188"/></g><g id="k49-4"><use href="#LR" x="240"/></g><g id="k49-5"><use href="#LR" x="292"/></g><g id="k49-6"><use href="#LR" x="344"/></g><g id="k49-7"><use href="#LR" x="396"/></g><g id="k49-8"><use href="#LR" x="448"/></g><g id="k49-9"><use href="#LR" x="500"/></g><g id="k49-10"><use href="#DR" x="552"/></g><g id="k49-11"><use href="#LR" x="604"/></g><g id="k49-12"><use href="#DR" x="656"/></g></g>
<g transform="translate(0 2610)"><g id="k50-1"><use href="#LL" x="84"/></g><g id="k50-2"><use href="#LL" x="136"/></g><g id="k50-3"><use href="#DL" x="188"/></g><g id="k50-4"><use href="#LL" x="240"/></g><g id="k50-5"><use href="#LL" x="292"/></g><g id="k50-6"><use href="#LL" x="344"/></g><g id="k50-7"><use href="#LL" x="396"/></g><g id="k50-8"><use href="#LL" x="448"/></g><g id="k50-9"><use href="#LL" x="500"/></g><g id="k50-10"><use href="#DL" x="552"/></g><g id="k50-11"><use href="#LL" x="604"/></g><g id="k50-12"><use href="#LL" x="656"/></g></g>
<g transform="translate(0 2662)"><g id="k51-1"><use href="#DR" x="84"/></g><g id="k51-2"><use href="#LR" x="136"/></g><g id="k51-3"><use href="#DR" x="188"/></g><g id="k51-4"><use href="#LR" x="240"/></g><g id="k51-5"><use href="#LR" x="292"/></g><g id="k51-6"><use href="#LR" x="344"/></g><g id="k51-7"><use href="#LR" x="396"/></g><g id="k51-8"><use href="#LR" x="448"/></g><g id="k51-9"><use href="#LR" x="500"/></g><g id="k51-10"><use href="#DR" x="552"/></g><g id="k51-11"><use href="#LR" x="604"/></g><g id="k51-12"><use href="#DR" x="656"/></g></g>
<g transform="translate(0 2714)"><g id="k52-1"><use href="#LL" x="84"/></g><g id="k52-2"><use href="#LL" x="136"/></g><g id="k52-3"><use href="#DL" x="188"/></g><g id="k52-4"><use href="#LL" x="240"/></g><g id="k52-5"><use href="#LL" x="292"/></g><g id="k52-6"><use href="#LL" x="344"/></g><g id="k52-7"><use href="#LL" x="396"/></g><g id="k52-8"><use href="#LL" x="448"/></g><g id="k52-9"><use href="#LL" x="500"/></g><g id="k52-10"><use href="#DL" x="552"/></g><g id="k52-11"><use href="#LL" x="604"/></g><g id="k52-12"><use href="#LL" x="656"/></g></g>
<g transform="translate(0 2766)"><g id="k53-1"><use href="#DR" x="84"/></g><g id="k53-2"><use href="#LR" x="136"/></g><g id="k53-3"><use href="#DR" x="188"/></g><g id="k53-4"><use href="#LR" x="240"/></g><g id="k53-5"><use href="#LR" x="292"/></g><g id="k53-6"><use href="#LR" x="344"/></g><g id="k53-7"><use href="#LR" x="396"/></g><g id="k53-8"><use href="#LR" x="448"/></g><g id="k53-9"><use href="#LR" x="500"/></g><g id="k53-10"><use href="#DR" x="552"/></g><g id="k53-11"><use href="#LR" x="604"/></g><g id="k53-12"><use href="#DR" x="656"/></g></g>
<g transform="translate(0 2818)"><g id="k54-1"><use href="#LL" x="84"/></g><g id="k54-2"><use href="#LL" x="136"/></g><g id="k54-3"><use href="#DL" x="188"/></g><g id="k54-4"><use href="#LL" x="240"/></g><g id="k54-5"><use href="#LL" x="292"/></g><g id="k54-6"><use href="#LL" x="344"/></g><g id="k54-7"><use href="#LL" x="396"/></g><g id="k54-8"><use href="#LL" x="448"/></g><g id="k54-9"><use href="#LL" x="500"/></g><g id="k54-10"><use href="#DL" x="552"/></g><g id="k54-11"><use href="#LL" x="604"/></g><g id="k54-12"><use href="#LL" x="656"/></g></g>
<g transform="translate(0 2870)"><g id="k55-1"><use href="#DR" x="84"/></g><g id="k55-2"><use href="#LR" x="136"/></g><g id="k55-3"><use href="#DR" x="188"/></g><g id="k55-4"><use href="#LR" x="240"/></g><g id="k55-5"><use href="#LR" x="292"/></g><g id="k55-6"><use href="#LR" x="344"/></g><g id="k55-7"><use href="#LR" x="396"/></g><g id="k55-8"><use href="#LR" x="448"/></g><g id="k55-9"><use href="#LR" x="500"/></g><g id="k55-10"><use href="#DR" x="552"/></g><g id="k55-11"><use href="#LR" x="604"/></g><g id="k55-12"><use href="#DR" x="656"/></g></g>
<g transform="translate(0 2922)"><g id="k56-1"><use href="#LL" x="84"/></g><g id="k56-2"><use href="#LL" x="136"/></g><g id="k56-3"><use href="#DL" x="188"/></g><g id="k56-4"><use href="#LL" x="240"/></g><g id="k56-5"><use href="#LL" x="292"/></g><g id="k56-6"><use href="#LL" x="344"/></g><g id="k56-7"><use href="#LL" x="396"/></g><g id="k56-8"><use href="#LL" x="448"/></g><g id="k56-9"><use href="#LL" x="500"/></g><g id="k56-10"><use href="#DL" x="552"/></g><g id="k56-11"><use href="#LL" x="604"/></g><g id="k56-12"><use href="#LL" x="656"/></g></g>
<g transform="translate(0 2974)"><g id="k57-1"><use href="#DR" x="84"/></g><g id="k57-2"><use href="#LR" x="136"/></g><g id="k57-3"><use href="#DR" x="188"/></g><g id="k57-4"><use href="#LR" x="240"/></g><g id="k57-5"><use href="#LR" x="292"/></g><g id="k57-6"><use href="#LR" x="344"/></g><g id="k57-7"><use href="#LR" x="396"/></g><g id="k57-8"><use href="#LR" x="448"/></g><g id="k57-9"><use href="#LR" x="500"/></g><g id="k57-10"><use href="#DR" x="552"/></g><g id="k57-11"><use href="#LR" x="604"/></g><g id="k57-12"><use href="#DR" x="656"/></g></g>
<g transform="translate(0 3026)"><g id="k58-1"><use href="#LL" x="84"/></g><g id="k58-2"><use href="#LL" x="136"/></g><g id="k58-3"><use href="#DL" x="188"/></g><g id="k58-4"><use href="#LL" x="240"/></g><g id="k58-5"><use href="#LL" x="292"/></g><g id="k58-6"><use href="#LL" x="344"/></g><g id="k58-7"><use href="#LL" x="396"/></g><g id="k58-8"><use href="#LL" x="448"/></g><g id="k58-9"><use href="#LL" x="500"/></g><g id="k58-10"><use href="#DL" x="552"/></g><g id="k58-11"><use href="#LL" x="604"/></g><g id="k58-12"><use href="#LL" x="656"/></g></g>
<g transform="translate(0 3078)"><g id="k59-1"><use href="#DR" x="84"/></g><g id="k59-2"><use href="#LR" x="136"/></g><g id="k59-3"><use href="#DR" x="188"/></g><g id="k59-4"><use href="#LR" x="240"/></g><g id="k59-5"><use href="#LR" x="292"/></g><g id="k59-6"><use href="#LR" x="344"/></g><g id="k59-7"><use href="#LR" x="396"/></g><g id="k59-8"><use href="#LR" x="448"/></g><g id="k59-9"><use href="#LR" x="500"/></g><g id="k59-10"><use href="#DR" x="552"/></g><g id="k59-11"><use href="#LR" x="604"/></g><g id="k59-12"><use href="#DR" x="656"/></g></g>
<g transform="translate(0 3130)"><g id="k60-1"><use href="#LL" x="84"/></g><g id="k60-2"><use href="#LL" x="136"/></g><g id="k60-3"><use href="#DL" x="188"/></g><g id="k60-4"><use href="#LL" x="240"/></g><g id="k60-5"><use href="#LL" x="292"/></g><g id="k60-6"><use href="#LL" x="344"/></g><g id="k60-7"><use href="#LL" x="396"/></g><g id="k60-8"><use href="#LL" x="448"/></g><g id="k60-9"><use href="#LL" x="500"/></g><g id="k60-10"><use href="#DL" x="552"/></g><g id="k60-11"><use href="#LL" x="604"/></g><g id="k60-12"><use href="#LL" x="656"/></g></g>
<g transform="translate(0 3182)"><g id="k61-1"><use href="#DR" x="84"/></g><g id="k61-2"><use href="#LR" x="136"/></g><g id="k61-3"><use href="#DR" x="188"/></g><g id="k61-4"><use href="#LR" x="240"/></g><g id="k61-5"><use href="#LR" x="292"/></g><g id="k61-6"><use href="#LR" x="344"/></g><g id="k61-7"><use href="#LR" x="396"/></g><g id="k61-8"><use href="#LR" x="448"/></g><g id="k61-9"><use href="#LR" x="500"/></g><g id="k61-10"><use href="#DR" x="552"/></g><g id="k61-11"><use href="#LR" x="604"/></g><g id="k61-12"><use href="#DR" x="656"/></g></g>
<g transform="translate(0 3234)"><g id="k62-1"><use href="#LL" x="84"/></g><g id="k62-2"><use href="#LL" x="136"/></g><g id="k62-3"><use href="#DL" x="188"/></g><g id="k62-4"><use href="#LL" x="240"/></g><g id="k62-5"><use href="#LL" x="292"/></g><g id="k62-6"><use href="#LL" x="344"/></g><g id="k62-7"><use href="#LL" x="396"/></g><g id="k62-8"><use href="#LL" x="448"/></g><g id="k62-9"><use href="#LL" x="500"/></g><g id="k62-10"><use href="#DL" x="552"/></g><g id="k62-11"><use href="#LL" x="604"/></g><g id="k62-12"><use href="#LL" x="656"/></g></g>
<g transform="translate(0 3286)"><g id="k63-1"><use href="#DR" x="84"/></g><g id="k63-2"><use href="#LR" x="136"/></g><g id="k63-3"><use href="#DR" x="188"/></g><g id="k63-4"><use href="#LR" x="240"/></g><g id="k63-5"><use href="#LR" x="292"/></g><g id="k63-6"><use href="#LR" x="344"/></g><g id="k63-7"><use href="#LR" x="396"/></g><g id="k63-8"><use href="#LR" x="448"/></g><g id="k63-9"><use href="#LR" x="500"/></g><g id="k63-10"><use href="#DR" x="552"/></g><g id="k63-11"><use href="#LR" x="604"/></g><g id="k63-12"><use href="#DR" x="656"/></g></g>
<g transform="translate(0 3338)"><g id="k64-1"><use href="#LL" x="84"/></g><g id="k64-2"><use href="#LL" x="136"/></g><g id="k64-3"><use href="#DL" x="188"/></g><g id="k64-4"><use href="#LL" x="240"/></g><g id="k64-5"><use href="#LL" x="292"/></g><g id="k64-6"><use href="#LL" x="344"/></g><g id="k64-7"><use href="#LL" x="396"/></g><g id="k64-8"><use href="#LL" x="448"/></g><g id="k64-9"><use href="#LL" x="500"/></g><g id="k64-10"><use href="#DL" x="552"/></g><g id="k64-11"><use href="#LL" x="604"/></g><g id="k64-12"><use href="#LL" x="656"/></g></g>
<g transform="translate(0 3390)"><g id="k65-1"><use href="#DR" x="84"/></g><g id="k65-2"><use href="#LR" x="136"/></g><g id="k65-3"><use href="#DR" x="188"/></g><g id="k65-4"><use href="#LR" x="240"/></g><g id="k65-5"><use href="#LR" x="292"/></g><g id="k65-6"><use href="#LR" x="344"/></g><g id="k65-7"><use href="#LR" x="396"/></g><g id="k65-8"><use href="#LR" x="448"/></g><g id="k65-9"><use href="#LR" x="500"/></g><g id="k65-10"><use href="#DR" x="552"/></g><g id="k65-11"><use href="#LR" x="604"/></g><g id="k65-12"><use href="#DR" x="656"/></g></g>
<g transform="translate(0 3442)"><g id="k66-1"><use href="#LL" x="84"/></g><g id="k66-2"><use href="#LL" x="136"/></g><g id="k66-3"><use href="#DL" x="188"/></g><g id="k66-4"><use href="#LL" x="240"/></g><g id="k66-5"><use href="#LL" x="292"/></g><g id="k66-6"><use href="#LL" x="344"/></g><g id="k66-7"><use href="#LL" x="396"/></g><g id="k66-8"><use href="#LL" x="448"/></g><g id="k66-9"><use href="#LL" x="500"/></g><g id="k66-10"><use href="#DL" x="552"/></g><g id="k66-11"><use href="#LL" x="604"/></g><g id="k66-12"><use href="#LL" x="656"/></g></g>
<g transform="translate(0 3494)"><g id="k67-1"><use href="#DR" x="84"/></g><g id="k67-2"><use href="#LR" x="136"/></g><g id="k67-3"><use href="#DR" x="188"/></g><g id="k67-4"><use href="#LR" x="240"/></g><g id="k67-5"><use href="#LR" x="292"/></g><g id="k67-6"><use href="#LR" x="344"/></g><g id="k67-7"><use href="#LR" x="396"/></g><g id="k67-8"><use href="#LR" x="448"/></g><g id="k67-9"><use href="#LR" x="500"/></g><g id="k67-10"><use href="#DR" x="552"/></g><g id="k67-11"><use href="#LR" x="604"/></g><g id="k67-12"><use href="#DR" x="656"/></g></g>
</g>
<text x="370" y="1808" text-anchor="middle" style="font-family:'Liberation Sans',Arial,sans-serif;font-size:14px;font-weight:bold;fill:#3a3a3a;stroke:#fff;stroke-opacity:.6;stroke-width:2.5;paint-order:stroke">BRACELETBOOK.COM</text>
</svg>
